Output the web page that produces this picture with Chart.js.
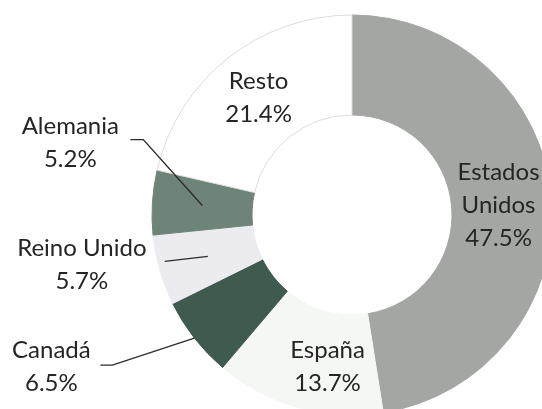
<!DOCTYPE html>
<html>
<head>
<meta charset="utf-8">
<script src="https://cdn.jsdelivr.net/npm/chart.js@4"></script>
<style>
    html, body { margin: 0; padding: 0; background: #fff; overflow: hidden; width: 542px; height: 409px; }
    #wrap { position: relative; width: 560px; height: 430px; }
</style>
</head>
<body>
<div id="wrap"><canvas id="share-chart" width="560" height="430"></canvas></div>
<script>
// Data
const countries = ['Estados Unidos', 'España', 'Canadá', 'Reino Unido', 'Alemania', 'Resto'];
const shares = [47.5, 13.7, 6.5, 5.7, 5.2, 21.4];
const sliceColors = ['#a3a6a3', '#f5f7f5', '#3f5a4e', '#ebebf0', '#6f8479', '#ffffff'];
const sliceBorders = ['#a3a6a3', '#f5f7f5', '#3f5a4e', '#ebebf0', '#6f8479', '#dcdcdc'];

const textColor = '#252525';
const font = '24px Lato';
const lineGap = 33;

// label placement: inside labels sit on the ring, outside ones get a leader line
const labelLayout = {
    'Estados Unidos': { inside: true, nx: -3, ny: 2 },
    'España': { inside: true, nx: 16, ny: 7 },
    'Resto': { inside: true, nx: 0, ny: 0 },
    'Alemania': { inside: false, r: 'mid', dx: -132, dy: -63, line: [[73, -3], [60, -3]] },
    'Reino Unido': { inside: false, r: 'mid', dx: -126, dy: 8, line: [[83, -3]] },
    'Canadá': { inside: false, r: 'outer', dx: -143, dy: 29, line: [[61, -2], [49, -2]] }
};

const sliceLabels = {
    id: 'sliceLabels',
    afterDatasetsDraw(chart) {
        const ctx = chart.ctx;
        const meta = chart.getDatasetMeta(0);
        ctx.save();
        ctx.font = font;
        ctx.fillStyle = textColor;
        ctx.textAlign = 'center';
        ctx.textBaseline = 'middle';
        meta.data.forEach((arc, i) => {
            const name = countries[i];
            const pct = shares[i].toFixed(1) + '%';
            const lay = labelLayout[name];
            const p = arc.getProps(['x', 'y', 'startAngle', 'endAngle', 'innerRadius', 'outerRadius'], true);
            const mid = (p.startAngle + p.endAngle) / 2;
            const midR = (p.innerRadius + p.outerRadius) / 2;
            if (lay.inside) {
                const lines = name.split(' ').concat([pct]);
                const cx = p.x + Math.cos(mid) * midR + lay.nx;
                const cy = p.y + Math.sin(mid) * midR + lay.ny;
                const top = cy - (lines.length - 1) * lineGap / 2;
                lines.forEach((t, k) => ctx.fillText(t, cx, top + k * lineGap));
            } else {
                const r = lay.r === 'outer' ? p.outerRadius : midR;
                const ax = p.x + Math.cos(mid) * r;
                const ay = p.y + Math.sin(mid) * r;
                const tx = ax + lay.dx;
                const ty = ay + lay.dy;
                ctx.fillText(name, tx, ty - lineGap / 2);
                ctx.fillText(pct, tx, ty + lineGap / 2);
                ctx.beginPath();
                ctx.strokeStyle = '#2b2b2b';
                ctx.lineWidth = 1.4;
                ctx.moveTo(ax, ay);
                lay.line.forEach(pt => ctx.lineTo(tx + pt[0], ty + pt[1]));
                ctx.stroke();
            }
        });
        ctx.restore();
    }
};

const shareCtx = document.getElementById('share-chart').getContext('2d');
const shareChart = new Chart(shareCtx, {
    type: 'doughnut',
    data: {
        labels: countries,
        datasets: [{
            data: shares,
            backgroundColor: sliceColors,
            borderColor: sliceBorders,
            borderWidth: 1
        }]
    },
    options: {
        responsive: false,
        animation: false,
        cutout: '50%',
        radius: 200,
        layout: {
            padding: { left: 152, right: 8, top: 15, bottom: 15 }
        },
        plugins: {
            legend: { display: false },
            tooltip: { enabled: false }
        }
    },
    plugins: [sliceLabels]
});
</script>
</body>
</html>
